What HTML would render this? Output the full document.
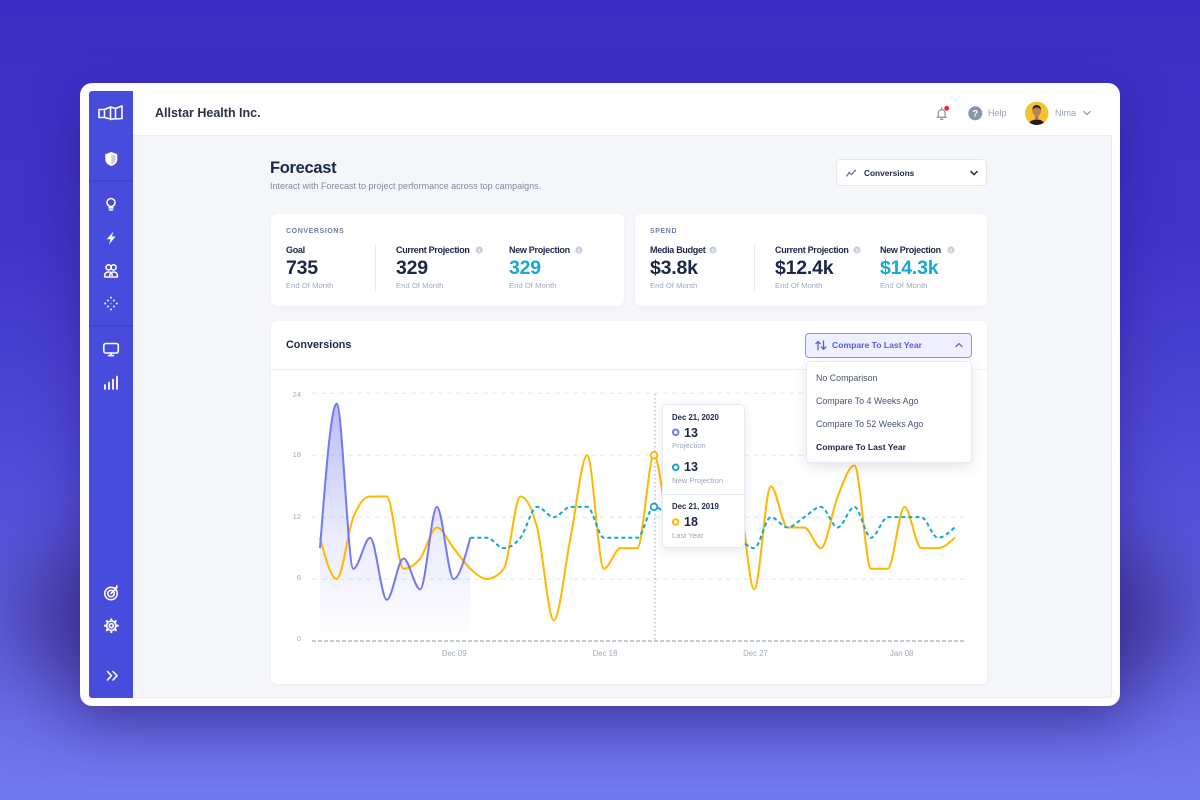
<!DOCTYPE html>
<html><head><meta charset="utf-8"><title>Forecast</title>
<style>
*{margin:0;padding:0;box-sizing:border-box}
html,body{width:1200px;height:800px;overflow:hidden}
body{position:relative;background:linear-gradient(180deg,#3b2ec4 0%,#4034c8 30%,#4f48d6 55%,#6462e4 80%,#7279f1 100%);font-family:"Liberation Sans",Arial,sans-serif;color:#1c2747}
.b{position:absolute}
.t{position:absolute;white-space:nowrap;line-height:20px;height:20px}
.bd{font-weight:bold}
.lab{font-size:9px;font-weight:bold;letter-spacing:-0.3px;color:#1c2747}
.val{font-size:19.5px;font-weight:bold;color:#1c2747;letter-spacing:-0.2px}
.eom{font-size:7.7px;color:#a0abc0}
.cap{font-size:7px;font-weight:bold;letter-spacing:0.6px;color:#6e7fa3}
.yl{font-size:7.5px;color:#9ea9bf;text-align:right;width:31px;left:270px}
.xl{font-size:7.8px;color:#9ea9bf;text-align:center;width:40px}
.mi{font-size:8.85px;color:#4a5573;left:816px}
.card{position:absolute;background:#fff;border-radius:6px;box-shadow:0 1px 3px rgba(30,40,90,.05)}
</style></head><body>

<div class="b" style="left:10px;top:545px;width:1180px;height:150px;background:rgba(48,38,120,.6);filter:blur(40px);border-radius:80px"></div>
<div class="b" style="left:80px;top:83px;width:1040px;height:623px;background:#fff;border-radius:12px;box-shadow:0 18px 50px rgba(25,12,95,.35)"></div>
<div class="b" style="left:89px;top:91px;width:1023px;height:607px;background:#f5f6fa;border:1px solid #e9ebf1;border-radius:3px"></div>
<div class="b" style="left:89px;top:91px;width:44px;height:607px;background:#474cdd;border-radius:3px 0 0 3px"></div>
<div class="b" style="left:133px;top:91px;width:979px;height:45px;background:#fff;border-bottom:1px solid #edf0f4"></div>

<div class="b" style="left:836px;top:159px;width:151px;height:27px;background:#fff;border:1px solid #e4e7ee;border-radius:4px"></div>

<div class="card" style="left:271px;top:214px;width:353px;height:92px"></div>
<div class="card" style="left:635px;top:214px;width:352px;height:92px"></div>
<div class="b" style="left:375px;top:244px;width:1px;height:47px;background:#e8ebf1"></div>
<div class="b" style="left:754px;top:244px;width:1px;height:47px;background:#e8ebf1"></div>

<div class="card" style="left:271px;top:321px;width:716px;height:363px"></div>
<div class="b" style="left:271px;top:369px;width:716px;height:1px;background:#eef0f5"></div>
<div class="b" style="left:805px;top:333px;width:167px;height:25px;background:#eff0ff;border:1px solid #8e93f2;border-radius:4px"></div>

<svg class="b" style="left:0;top:0" width="1200" height="800" viewBox="0 0 1200 800">
<defs>
<linearGradient id="bf" x1="0" y1="403" x2="0" y2="641" gradientUnits="userSpaceOnUse">
<stop offset="0" stop-color="#7479f0" stop-opacity="0.5"/>
<stop offset="0.55" stop-color="#7479f0" stop-opacity="0.15"/>
<stop offset="1" stop-color="#7479f0" stop-opacity="0"/>
</linearGradient>
<clipPath id="av"><circle cx="1036.7" cy="113.3" r="11.7"/></clipPath>
</defs>

<line x1="89" y1="181" x2="133" y2="181" stroke="#3a3ec4" stroke-width="1"/>
<line x1="89" y1="326" x2="133" y2="326" stroke="#3a3ec4" stroke-width="1"/>
<g fill="none" stroke="#fff" stroke-width="1.6" stroke-linecap="round" stroke-linejoin="round">
<path d="M99 109.5h5.5v8H99z M104.5 109.5l6-2.5v12l-6-1.5 M110.5 107l5 1.5v10l-5 1 M115.5 108.5l6.5-2.5v12.5l-6.5 0.5"/>
<circle cx="111" cy="202.5" r="4"/>
<path d="M109 207.8h4 M109.6 210h2.8"/>
<circle cx="108.6" cy="267.4" r="2.6"/>
<circle cx="113.6" cy="267.4" r="2.6"/>
<path d="M104.7 277v-1.8c0-1.8 1.6-3.2 3.9-3.2s3.6 1.4 3.6 3.2 M109.8 277v-1.8c0-1.8 1.6-3.2 3.8-3.2s3.8 1.4 3.8 3.2v1.8z M104.7 277h7.5"/>
<rect x="103.8" y="343.5" width="14.5" height="9.5" rx="2"/>
<path d="M108.5 355.6h5 M111 353v2.5"/>
<path d="M105 389v-4 M109 389v-6.5 M113 389v-9.5 M117 389v-12.5" stroke-width="1.8"/>
<circle cx="111" cy="593.5" r="6.2"/>
<circle cx="111" cy="593.5" r="3.2"/>
<path d="M111 593.5l5.2-5.2 M114.6 587.8h2.2v-2"/>
<circle cx="111.3" cy="625.7" r="2"/>
<circle cx="111.3" cy="625.7" r="4.6"/>
<path d="M107.5 671.5l4 4.2-4 4.2 M113 671.5l4 4.2-4 4.2"/>
</g>
<g stroke="#fff" stroke-width="2.2" stroke-linecap="round">
<path d="M111.3 619.3v1.4 M111.3 630.7v1.4 M104.9 625.7h1.4 M116.3 625.7h1.4 M106.8 621.2l1 1 M114.8 629.2l1 1 M106.8 630.2l1-1 M114.8 622.2l1-1"/>
</g>
<path d="M111.3 152l6 2.3v4.8c0 3.6-2.6 5.8-6 6.9-3.4-1.1-6-3.3-6-6.9v-4.8z" fill="#fff"/>
<path d="M111.3 154.2l4.2 1.6v3.4c0 2.7-1.9 4.4-4.2 5.3z" fill="#c8cbf6"/>
<polygon points="113.5,231.5 106.8,239.2 110.6,239.2 109,244.5 115.6,236.5 111.8,236.5" fill="#fff"/>
<g fill="#fff">
<circle cx="111" cy="297.6" r="0.95"/><circle cx="108" cy="300.5" r="0.95"/><circle cx="114" cy="300.5" r="0.95"/>
<circle cx="105.2" cy="303.5" r="0.95"/><circle cx="116.8" cy="303.5" r="0.95"/><circle cx="108" cy="306.5" r="0.95"/>
<circle cx="114" cy="306.5" r="0.95"/><circle cx="111" cy="309.4" r="0.95"/><circle cx="111" cy="303.5" r="0.8" opacity=".6"/>
</g>

<g fill="none" stroke="#8b99ae" stroke-width="1.3" stroke-linecap="round" stroke-linejoin="round">
<path d="M937.2 117.3h9 M938.3 117.3v-4.3a3.4 3.4 0 0 1 6.8 0v4.3 M940.6 119.3h2.3 M941.7 108.6v-0.9"/>
<path d="M1084 111.6l3 3 3-3"/>
</g>
<circle cx="946.7" cy="108.3" r="2.4" fill="#f2202e"/>
<circle cx="975.3" cy="113.3" r="7" fill="#8797ab"/>
<text x="975.3" y="116.6" font-family="Liberation Sans, Arial, sans-serif" font-size="9.5" font-weight="bold" fill="#fff" text-anchor="middle">?</text>
<circle cx="1036.7" cy="113.3" r="11.7" fill="#f5c12e"/>
<g clip-path="url(#av)">
<ellipse cx="1036.7" cy="126.5" rx="9" ry="7" fill="#1c1c22"/>
<rect x="1035" y="115" width="3.4" height="4" fill="#b27a55"/>
<ellipse cx="1036.7" cy="111" rx="4.3" ry="5" fill="#b9805a"/>
<path d="M1032.4 110c0-3.5 2-5 4.3-5s4.3 1.5 4.3 5c-1-1.8-2.5-2.5-4.3-2.5s-3.3.7-4.3 2.5z" fill="#2a1d16"/>
</g>

<g fill="none" stroke="#6c7a99" stroke-width="1.3" stroke-linecap="round" stroke-linejoin="round">
<path d="M846.8 176l2.4-3.4 2.4 2 3.2-4"/>
</g>
<circle cx="849.2" cy="172.6" r="1" fill="#6c7a99"/><circle cx="855" cy="170.6" r="1" fill="#6c7a99"/>
<path d="M971 171.6l3 3 3-3" fill="none" stroke="#1c2747" stroke-width="1.5" stroke-linecap="round" stroke-linejoin="round"/>

<g fill="#c6cfde">
<circle cx="479.3" cy="250" r="3.6"/><circle cx="579" cy="250" r="3.6"/>
<circle cx="713" cy="250" r="3.6"/><circle cx="857" cy="250" r="3.6"/><circle cx="951" cy="250" r="3.6"/>
</g>
<g stroke="#fff" stroke-width="1" stroke-linecap="round">
<path d="M479.3 249.3v2.3 M579 249.3v2.3 M713 249.3v2.3 M857 249.3v2.3 M951 249.3v2.3"/>
</g>

<g fill="none" stroke="#5a5fe0" stroke-width="1.3" stroke-linecap="round" stroke-linejoin="round">
<path d="M818 349.8v-8.3 M815.8 343.7l2.2-2.3 2.2 2.3"/>
<path d="M823.5 341v8.3 M821.3 347l2.2 2.3 2.2-2.3"/>
<path d="M956 346.6l3-3 3 3"/>
</g>

<g stroke="#e3e6ee" stroke-width="1" stroke-dasharray="5 4">
<line x1="312" y1="393.3" x2="965" y2="393.3"/>
<line x1="312" y1="455.2" x2="965" y2="455.2"/>
<line x1="312" y1="517.2" x2="965" y2="517.2"/>
<line x1="312" y1="579.1" x2="965" y2="579.1"/>
</g>
<line x1="312" y1="641" x2="965" y2="641" stroke="#b4b8c2" stroke-width="1.5" stroke-dasharray="4 2"/>

<path d="M320,548.12 C325.57,475.88 331.13,403.64 336.7,403.64 C342.27,403.64 347.83,568.76 353.4,568.76 C358.97,568.76 364.53,537.8 370.1,537.8 C375.67,537.8 381.23,599.72 386.8,599.72 C392.37,599.72 397.93,558.44 403.5,558.44 C409.07,558.44 414.63,589.4 420.2,589.4 C425.77,589.4 431.33,506.84 436.9,506.84 C442.47,506.84 448.03,579.08 453.6,579.08 C459.17,579.08 464.73,558.44 470.3,537.8 L470.3,641 L320,641 Z" fill="url(#bf)"/>

<path fill="none" stroke="#ffb700" stroke-width="2" stroke-linejoin="round" d="M320,537.8 C325.57,558.44 331.13,579.08 336.7,579.08 C342.27,579.08 347.83,530.92 353.4,517.16 C358.97,503.4 364.53,496.52 370.1,496.52 C375.67,496.52 381.23,496.52 386.8,496.52 C392.37,496.52 397.93,568.76 403.5,568.76 C409.07,568.76 414.63,565.32 420.2,558.44 C425.77,551.56 431.33,527.48 436.9,527.48 C442.47,527.48 448.03,541.24 453.6,548.12 C459.17,555.0 464.73,563.6 470.3,568.76 C475.87,573.92 481.43,579.08 487,579.08 C492.57,579.08 498.13,575.64 503.7,568.76 C509.27,561.88 514.83,496.52 520.4,496.52 C525.97,496.52 531.53,506.84 537.1,527.48 C542.67,548.12 548.23,620.36 553.8,620.36 C559.37,620.36 564.93,565.32 570.5,537.8 C576.07,510.28 581.63,455.24 587.2,455.24 C592.77,455.24 598.33,568.76 603.9,568.76 C609.47,568.76 615.03,548.12 620.6,548.12 C626.17,548.12 631.73,548.12 637.3,548.12 C642.87,548.12 648.43,455.24 654,455.24 C659.57,455.24 665.13,527.48 670.7,527.48 C676.27,527.48 681.83,506.84 687.4,506.84 C692.97,506.84 698.53,517.16 704.1,517.16 C709.67,517.16 715.23,517.16 720.8,517.16 C726.37,517.16 731.93,496.52 737.5,496.52 C743.07,496.52 748.63,589.4 754.2,589.4 C759.77,589.4 765.33,486.2 770.9,486.2 C776.47,486.2 782.03,527.48 787.6,527.48 C793.17,527.48 798.73,527.48 804.3,527.48 C809.87,527.48 815.43,548.12 821,548.12 C826.57,548.12 832.13,510.28 837.7,496.52 C843.27,482.76 848.83,465.56 854.4,465.56 C859.97,465.56 865.53,568.76 871.1,568.76 C876.67,568.76 882.23,568.76 887.8,568.76 C893.37,568.76 898.93,506.84 904.5,506.84 C910.07,506.84 915.63,548.12 921.2,548.12 C926.77,548.12 932.33,548.12 937.9,548.12 C943.47,548.12 949.03,542.96 954.6,537.8"/>

<path fill="none" stroke="#7479f0" stroke-width="2" stroke-linejoin="round" d="M320,548.12 C325.57,475.88 331.13,403.64 336.7,403.64 C342.27,403.64 347.83,568.76 353.4,568.76 C358.97,568.76 364.53,537.8 370.1,537.8 C375.67,537.8 381.23,599.72 386.8,599.72 C392.37,599.72 397.93,558.44 403.5,558.44 C409.07,558.44 414.63,589.4 420.2,589.4 C425.77,589.4 431.33,506.84 436.9,506.84 C442.47,506.84 448.03,579.08 453.6,579.08 C459.17,579.08 464.73,558.44 470.3,537.8"/>

<path fill="none" stroke="#13a6cf" stroke-width="2" stroke-dasharray="4 3" d="M470.3,537.8 C475.87,537.8 481.43,537.8 487,537.8 C492.57,537.8 498.13,548.12 503.7,548.12 C509.27,548.12 514.83,544.68 520.4,537.8 C525.97,530.92 531.53,506.84 537.1,506.84 C542.67,506.84 548.23,517.16 553.8,517.16 C559.37,517.16 564.93,506.84 570.5,506.84 C576.07,506.84 581.63,506.84 587.2,506.84 C592.77,506.84 598.33,537.8 603.9,537.8 C609.47,537.8 615.03,537.8 620.6,537.8 C626.17,537.8 631.73,537.8 637.3,537.8 C642.87,537.8 648.43,506.84 654,506.84 C659.57,506.84 665.13,513.72 670.7,517.16 C676.27,520.6 681.83,527.48 687.4,527.48 C692.97,527.48 698.53,517.16 704.1,517.16 C709.67,517.16 715.23,524.04 720.8,527.48 C726.37,530.92 731.93,534.36 737.5,537.8 C743.07,541.24 748.63,548.12 754.2,548.12 C759.77,548.12 765.33,517.16 770.9,517.16 C776.47,517.16 782.03,527.48 787.6,527.48 C793.17,527.48 798.73,520.6 804.3,517.16 C809.87,513.72 815.43,506.84 821,506.84 C826.57,506.84 832.13,527.48 837.7,527.48 C843.27,527.48 848.83,506.84 854.4,506.84 C859.97,506.84 865.53,537.8 871.1,537.8 C876.67,537.8 882.23,517.16 887.8,517.16 C893.37,517.16 898.93,517.16 904.5,517.16 C910.07,517.16 915.63,517.16 921.2,517.16 C926.77,517.16 932.33,537.8 937.9,537.8 C943.47,537.8 949.03,532.64 954.6,527.48"/>

<line x1="655" y1="394" x2="655" y2="641" stroke="#a9b4cc" stroke-width="1.2" stroke-dasharray="1.5 2.5"/>
<circle cx="654" cy="455.24" r="3.3" fill="#fff" stroke="#ffb700" stroke-width="1.8"/>
<circle cx="654" cy="506.84" r="3.3" fill="#fff" stroke="#13a6cf" stroke-width="1.8"/>
</svg>

<div class="t bd" style="left:155px;top:103px;font-size:12.5px;color:#2b3245">Allstar Health Inc.</div>
<div class="t" style="left:988px;top:103px;font-size:9px;color:#95a2b8">Help</div>
<div class="t" style="left:1055px;top:103px;font-size:9px;color:#95a2b8">Nima</div>

<div class="t bd" style="left:270px;top:158px;font-size:16.5px;letter-spacing:-0.3px;color:#1c2747">Forecast</div>
<div class="t" style="left:270px;top:175.5px;font-size:9px;color:#7f8ba5">Interact with Forecast to project performance across top campaigns.</div>
<div class="t bd" style="left:864px;top:162.5px;font-size:8.3px;color:#1c2747">Conversions</div>

<div class="t cap" style="left:286px;top:221.8px">CONVERSIONS</div>
<div class="t lab" style="left:286px;top:240px">Goal</div>
<div class="t lab" style="left:396px;top:240px">Current Projection</div>
<div class="t lab" style="left:509px;top:240px">New Projection</div>
<div class="t val" style="left:286px;top:257.8px">735</div>
<div class="t val" style="left:396px;top:257.8px">329</div>
<div class="t val" style="left:509px;top:257.8px;color:#14a9d0">329</div>
<div class="t eom" style="left:286px;top:275.7px">End Of Month</div>
<div class="t eom" style="left:396px;top:275.7px">End Of Month</div>
<div class="t eom" style="left:509px;top:275.7px">End Of Month</div>

<div class="t cap" style="left:650px;top:221.8px">SPEND</div>
<div class="t lab" style="left:650px;top:240px">Media Budget</div>
<div class="t lab" style="left:775px;top:240px">Current Projection</div>
<div class="t lab" style="left:880px;top:240px">New Projection</div>
<div class="t val" style="left:650px;top:257.8px">$3.8k</div>
<div class="t val" style="left:775px;top:257.8px">$12.4k</div>
<div class="t val" style="left:880px;top:257.8px;color:#14a9d0">$14.3k</div>
<div class="t eom" style="left:650px;top:275.7px">End Of Month</div>
<div class="t eom" style="left:775px;top:275.7px">End Of Month</div>
<div class="t eom" style="left:880px;top:275.7px">End Of Month</div>

<div class="t bd" style="left:286px;top:335px;font-size:10.8px;color:#1c2747">Conversions</div>
<div class="t bd" style="left:832px;top:335px;font-size:8.6px;color:#565bdc">Compare To Last Year</div>

<div class="t yl" style="top:384.5px">24</div>
<div class="t yl" style="top:444.5px">18</div>
<div class="t yl" style="top:506.5px">12</div>
<div class="t yl" style="top:568px">6</div>
<div class="t yl" style="top:629px">0</div>

<div class="t xl" style="left:434.2px;top:644px">Dec 09</div>
<div class="t xl" style="left:585px;top:644px">Dec 18</div>
<div class="t xl" style="left:735.5px;top:644px">Dec 27</div>
<div class="t xl" style="left:881.7px;top:644px">Jan 08</div>

<div class="b" style="left:806px;top:361px;width:166px;height:102px;background:#fff;border:1px solid #e6e9f0;border-radius:4px;box-shadow:0 4px 12px rgba(30,40,90,.12)"></div>
<div class="t mi" style="top:367.7px">No Comparison</div>
<div class="t mi" style="top:390.7px">Compare To 4 Weeks Ago</div>
<div class="t mi" style="top:413.7px">Compare To 52 Weeks Ago</div>
<div class="t bd" style="left:816px;top:436.7px;font-size:8.6px;color:#1c2747">Compare To Last Year</div>

<div class="b" style="left:662px;top:404px;width:83px;height:144px;background:#fff;border:1px solid #e6e9f0;border-radius:5px;box-shadow:0 3px 10px rgba(30,40,90,.1)"></div>
<div class="b" style="left:663px;top:494px;width:81px;height:1px;background:#e8ebf1"></div>
<svg class="b" style="left:0;top:0" width="1200" height="800" viewBox="0 0 1200 800">
<circle cx="675.7" cy="432.3" r="2.8" fill="#fff" stroke="#7479f0" stroke-width="2"/>
<circle cx="675.7" cy="467.3" r="2.8" fill="#fff" stroke="#13a6cf" stroke-width="2"/>
<circle cx="675.7" cy="522" r="2.8" fill="#fff" stroke="#ffb700" stroke-width="2"/>
</svg>
<div class="t bd" style="left:672px;top:407.5px;font-size:7.8px;color:#1c2747">Dec 21, 2020</div>
<div class="t bd" style="left:684px;top:422.5px;font-size:12.5px;color:#1c2747">13</div>
<div class="t" style="left:672px;top:436px;font-size:7.6px;color:#9aa6bd">Projection</div>
<div class="t bd" style="left:684px;top:457.3px;font-size:12.5px;color:#1c2747">13</div>
<div class="t" style="left:672px;top:471px;font-size:7.6px;color:#9aa6bd">New Projection</div>
<div class="t bd" style="left:672px;top:497px;font-size:7.8px;color:#1c2747">Dec 21, 2019</div>
<div class="t bd" style="left:684px;top:512px;font-size:12.5px;color:#1c2747">18</div>
<div class="t" style="left:672px;top:525.7px;font-size:7.6px;color:#9aa6bd">Last Year</div>

</body></html>
